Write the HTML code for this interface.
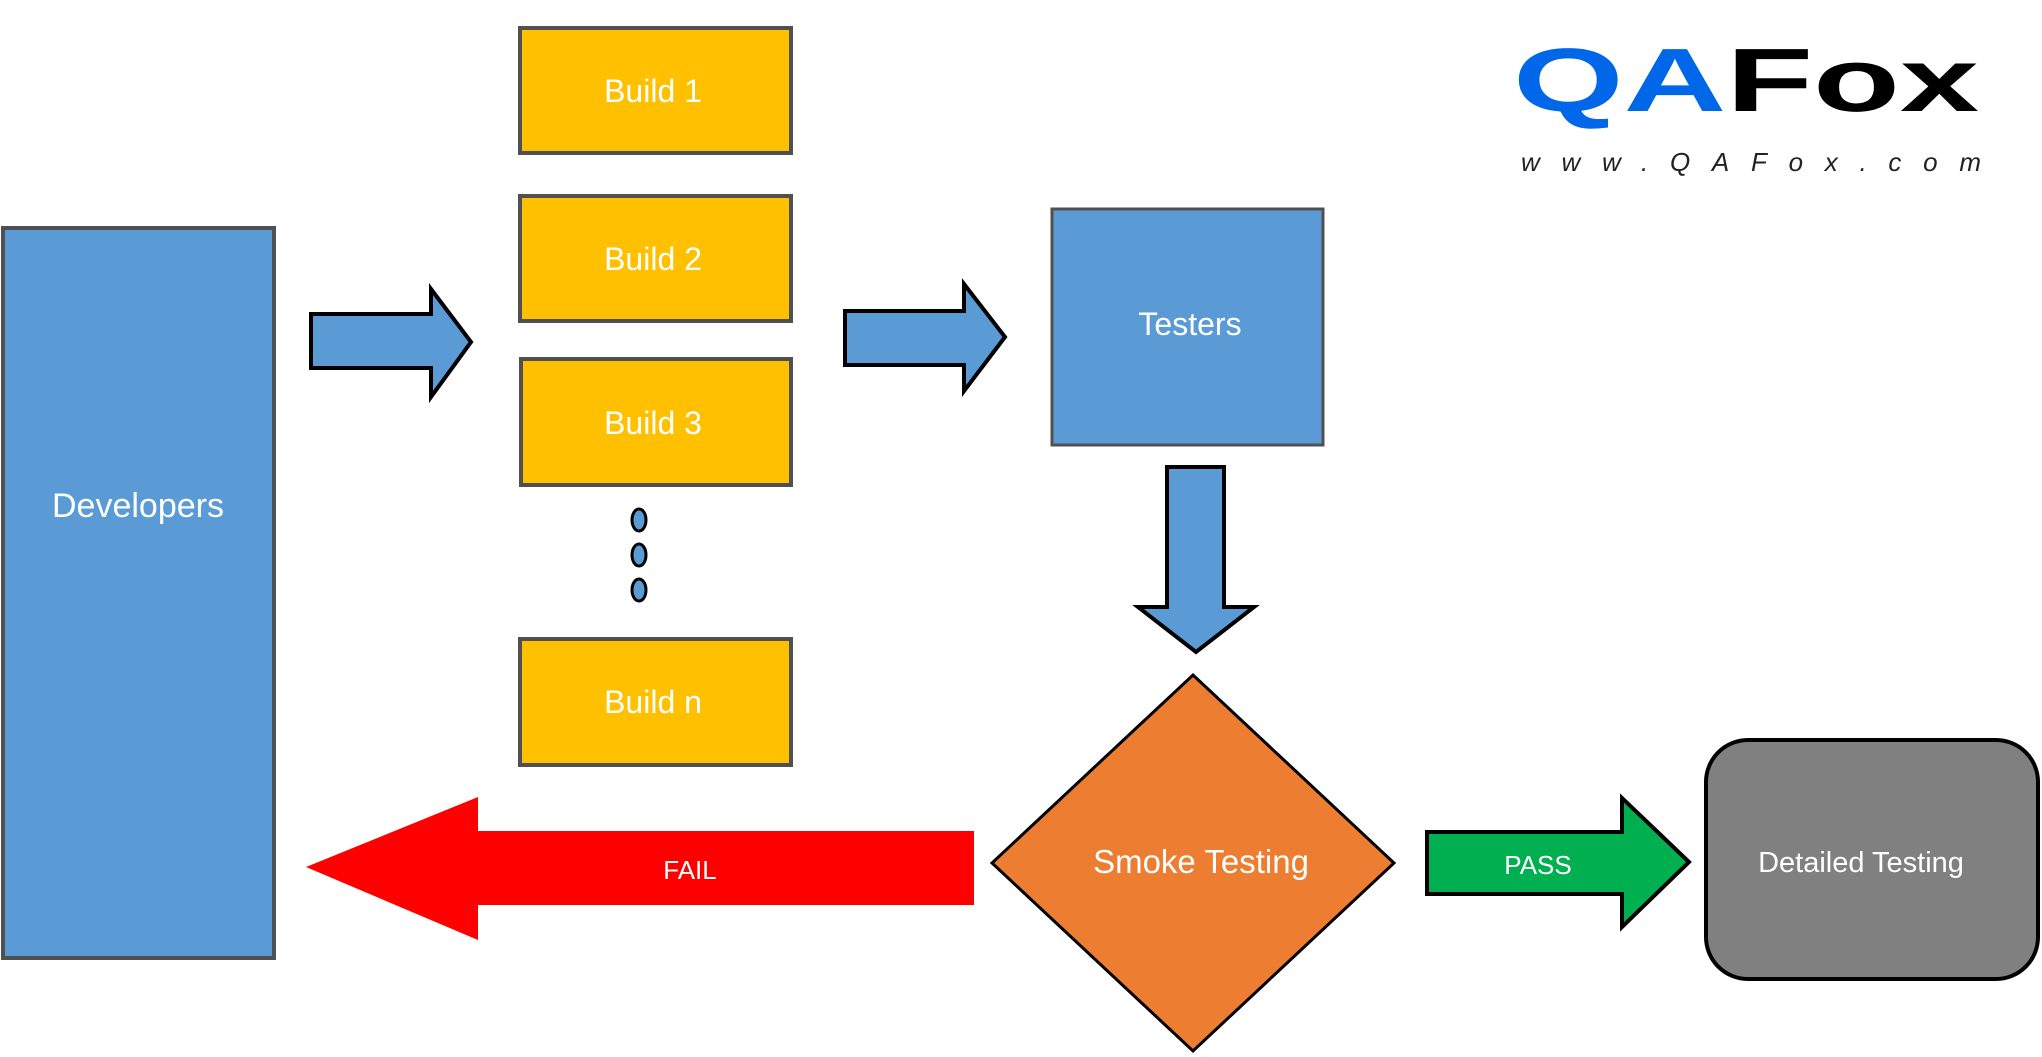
<!DOCTYPE html>
<html><head><meta charset="utf-8"><style>
html,body{margin:0;padding:0;background:#fff;}
svg{display:block;}
text{font-family:"Liberation Sans",sans-serif;fill:#fff;}
</style></head><body>
<svg width="2042" height="1057" viewBox="0 0 2042 1057" xmlns="http://www.w3.org/2000/svg">
<rect width="2042" height="1057" fill="#fff"/>
<!-- Developers -->
<rect x="3" y="228" width="271" height="730" fill="#5B9BD5" stroke="#505050" stroke-width="4"/>
<text x="138" y="517" font-size="34" text-anchor="middle">Developers</text>
<!-- Builds -->
<g fill="#FFC000" stroke="#505050" stroke-width="4">
<rect x="520" y="28" width="271" height="125"/>
<rect x="520" y="196" width="271" height="125"/>
<rect x="521" y="359" width="270" height="126"/>
<rect x="520" y="639" width="271" height="126"/>
</g>
<g font-size="32" text-anchor="middle">
<text x="653" y="102">Build 1</text>
<text x="653" y="270">Build 2</text>
<text x="653" y="434">Build 3</text>
<text x="653" y="713">Build n</text>
</g>
<!-- dots -->
<g fill="#5B9BD5" stroke="#000" stroke-width="3">
<ellipse cx="639" cy="520" rx="7" ry="11"/>
<ellipse cx="639" cy="555" rx="7" ry="11"/>
<ellipse cx="639" cy="590" rx="7" ry="11"/>
</g>
<!-- arrows -->
<g fill="#5B9BD5" stroke="#000" stroke-width="4" stroke-linejoin="miter">
<polygon points="311,314 431,314 431,289 471,342 431,397 431,368 311,368"/>
<polygon points="845,311 964,311 964,284 1005,337 964,391 964,365 845,365"/>
<polygon points="1167,467 1224,467 1224,607 1254,607 1196,652 1138,607 1167,607"/>
</g>
<!-- Testers -->
<rect x="1052" y="209" width="271" height="236" fill="#5B9BD5" stroke="#505050" stroke-width="3"/>
<text x="1190" y="335" font-size="32" text-anchor="middle">Testers</text>
<!-- Diamond -->
<polygon points="1193,675 1394,863 1193,1051 992,863" fill="#ED7D31" stroke="#000" stroke-width="3"/>
<text x="1201" y="873" font-size="33" text-anchor="middle">Smoke Testing</text>
<!-- FAIL -->
<polygon points="306,867 478,797 478,831 974,831 974,905 478,905 478,940" fill="#FF0000"/>
<text x="690" y="879" font-size="26" text-anchor="middle">FAIL</text>
<!-- PASS -->
<polygon points="1427,832 1622,832 1622,798 1689,862 1622,927 1622,894 1427,894" fill="#00B050" stroke="#000" stroke-width="4"/>
<text x="1538" y="874" font-size="26" text-anchor="middle">PASS</text>
<!-- Detailed -->
<rect x="1706" y="740" width="332" height="239" rx="42" fill="#808080" stroke="#000" stroke-width="4"/>
<text x="1861" y="872" font-size="29" text-anchor="middle">Detailed  Testing</text>
<!-- Logo -->
<text x="1513" y="111" font-size="90" font-weight="bold" textLength="466" lengthAdjust="spacingAndGlyphs" style="fill:#0068E8">QA<tspan style="fill:#000">Fox</tspan></text>
<text x="1521" y="171" font-size="26" font-style="italic" textLength="460" lengthAdjust="spacing" style="fill:#222">www.QAFox.com</text>
</svg>
</body></html>
